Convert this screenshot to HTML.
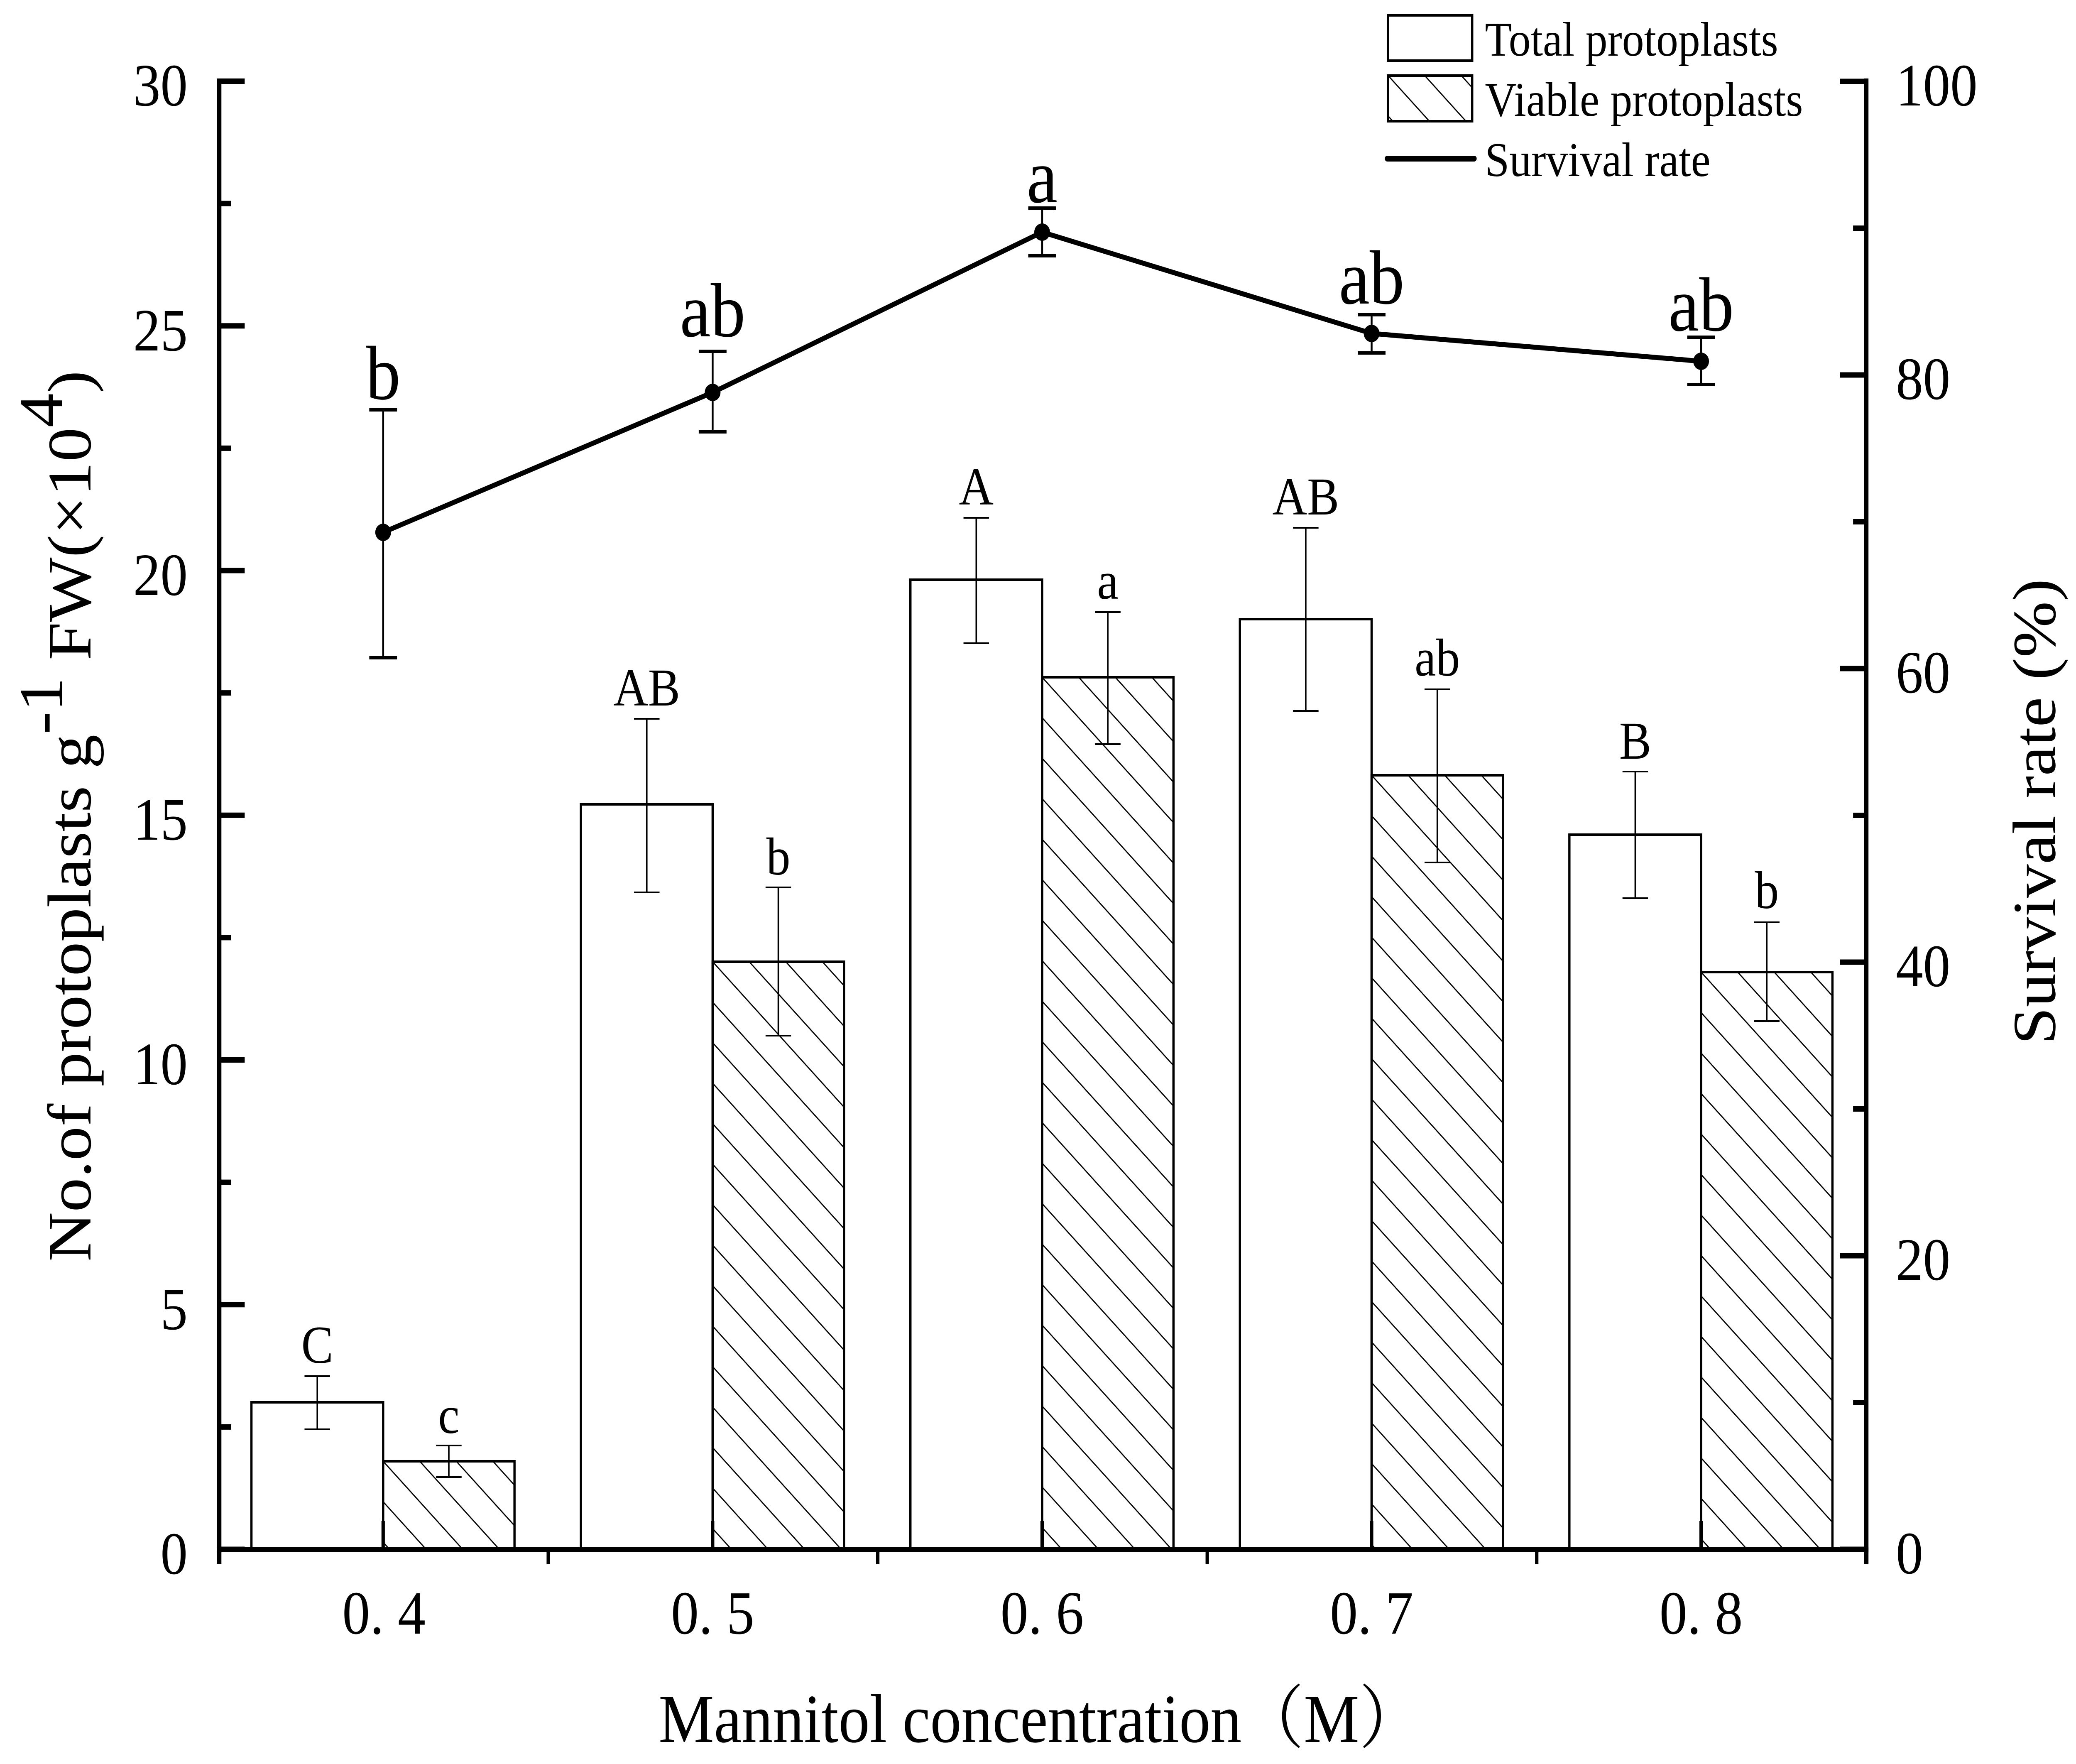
<!DOCTYPE html>
<html>
<head>
<meta charset="utf-8">
<style>
html,body{margin:0;padding:0;background:#fff;width:100%;height:100%;overflow:hidden;}
svg{position:fixed;left:0;top:0;width:100vw;height:100vh;display:block;}
text{font-family:"Liberation Serif","Noto Serif CJK SC",serif;fill:#000;}
</style>
</head>
<body>
<svg viewBox="0 0 5532 4248" preserveAspectRatio="none" xmlns="http://www.w3.org/2000/svg">
<defs>
  <pattern id="h1" patternUnits="userSpaceOnUse" x="1021" y="3519" width="97.5" height="97.5">
    <path d="M-20,-20 L117.5,117.5 M-20,77.5 L20,117.5 M77.5,-20 L117.5,20" stroke="#000" stroke-width="3" fill="none"/>
  </pattern>
  <pattern id="h2" patternUnits="userSpaceOnUse" x="1899" y="2316" width="97.5" height="97.5">
    <path d="M-20,-20 L117.5,117.5 M-20,77.5 L20,117.5 M77.5,-20 L117.5,20" stroke="#000" stroke-width="3" fill="none"/>
  </pattern>
  <pattern id="h3" patternUnits="userSpaceOnUse" x="2777" y="1631" width="97.5" height="97.5">
    <path d="M-20,-20 L117.5,117.5 M-20,77.5 L20,117.5 M77.5,-20 L117.5,20" stroke="#000" stroke-width="3" fill="none"/>
  </pattern>
  <pattern id="h4" patternUnits="userSpaceOnUse" x="3655" y="1867" width="97.5" height="97.5">
    <path d="M-20,-20 L117.5,117.5 M-20,77.5 L20,117.5 M77.5,-20 L117.5,20" stroke="#000" stroke-width="3" fill="none"/>
  </pattern>
  <pattern id="h5" patternUnits="userSpaceOnUse" x="4533" y="2341" width="97.5" height="97.5">
    <path d="M-20,-20 L117.5,117.5 M-20,77.5 L20,117.5 M77.5,-20 L117.5,20" stroke="#000" stroke-width="3" fill="none"/>
  </pattern>
  <pattern id="hl" patternUnits="userSpaceOnUse" x="3699" y="182" width="97.5" height="97.5">
    <path d="M-20,-20 L117.5,117.5 M-20,77.5 L20,117.5 M77.5,-20 L117.5,20" stroke="#000" stroke-width="3" fill="none"/>
  </pattern>
</defs>

<rect x="0" y="0" width="5532" height="4248" fill="#fff"/>

<!-- Bars: total -->
<g fill="#fff" stroke="#000" stroke-width="6">
  <rect x="670" y="3377" width="351" height="354"/>
  <rect x="1548" y="1937" width="351" height="1794"/>
  <rect x="2426" y="1396" width="351" height="2335"/>
  <rect x="3304" y="1491" width="351" height="2240"/>
  <rect x="4182" y="2010" width="351" height="1721"/>
</g>
<!-- Bars: viable -->
<g stroke="#000" stroke-width="6">
  <rect x="1021" y="3519" width="350" height="212" fill="url(#h1)"/>
  <rect x="1899" y="2316" width="350" height="1415" fill="url(#h2)"/>
  <rect x="2777" y="1631" width="350" height="2100" fill="url(#h3)"/>
  <rect x="3655" y="1867" width="350" height="1864" fill="url(#h4)"/>
  <rect x="4533" y="2341" width="350" height="1390" fill="url(#h5)"/>
</g>

<!-- Bar error bars -->
<g stroke="#000" stroke-width="4" fill="none">
  <path d="M845.5,3314 V3442 M811.5,3314 H879.5 M811.5,3442 H879.5"/>
  <path d="M1723.5,1731 V2149 M1689.5,1731 H1757.5 M1689.5,2149 H1757.5"/>
  <path d="M2601.5,1247 V1549 M2567.5,1247 H2635.5 M2567.5,1549 H2635.5"/>
  <path d="M3479.5,1271 V1712 M3445.5,1271 H3513.5 M3445.5,1712 H3513.5"/>
  <path d="M4357.5,1858 V2163 M4323.5,1858 H4391.5 M4323.5,2163 H4391.5"/>
  <path d="M1196,3481 V3557 M1162,3481 H1230 M1162,3557 H1230"/>
  <path d="M2074,2137 V2494 M2040,2137 H2108 M2040,2494 H2108"/>
  <path d="M2952,1474 V1792 M2918,1474 H2986 M2918,1792 H2986"/>
  <path d="M3830,1660 V2077 M3796,1660 H3864 M3796,2077 H3864"/>
  <path d="M4708,2221 V2459 M4674,2221 H4742 M4674,2459 H4742"/>
</g>

<!-- Bar letters -->
<g font-size="128" text-anchor="middle">
  <text x="845.5" y="3282">C</text>
  <text x="1723.5" y="1699">AB</text>
  <text x="2601.5" y="1215">A</text>
  <text x="3479.5" y="1239">AB</text>
  <text x="4357.5" y="1827">B</text>
  <text x="1196" y="3451">c</text>
  <text x="2074" y="2106">b</text>
  <text x="2952" y="1442">a</text>
  <text x="3830" y="1627">ab</text>
  <text x="4708" y="2187">b</text>
</g>

<!-- Survival error bars -->
<g stroke="#000" fill="none">
  <g stroke-width="5">
    <path d="M1021,987 V1584 M1899,846 V1040 M2777,501 V616 M3655,758 V850 M4533,812 V926"/>
  </g>
  <g stroke-width="8">
    <path d="M984,987 H1058 M984,1584 H1058"/>
    <path d="M1862,846 H1936 M1862,1040 H1936"/>
    <path d="M2740,501 H2814 M2740,616 H2814"/>
    <path d="M3618,758 H3692 M3618,850 H3692"/>
    <path d="M4496,812 H4570 M4496,926 H4570"/>
  </g>
</g>
<!-- Survival line -->
<polyline points="1021,1282 1899,945 2777,559 3655,803 4533,870" fill="none" stroke="#000" stroke-width="12" stroke-linejoin="round"/>
<g fill="#000">
  <circle cx="1021" cy="1282" r="21"/>
  <circle cx="1899" cy="945" r="21"/>
  <circle cx="2777" cy="559" r="21"/>
  <circle cx="3655" cy="803" r="21"/>
  <circle cx="4533" cy="870" r="21"/>
</g>
<g font-size="185" text-anchor="middle">
  <text x="1021" y="961">b</text>
  <text x="1899" y="810">ab</text>
  <text x="2777" y="487">a</text>
  <text x="3655" y="731">ab</text>
  <text x="4533" y="796">ab</text>
</g>

<!-- Axes -->
<g stroke="#000" fill="none">
  <line x1="584" y1="189" x2="584" y2="3766" stroke-width="12"/>
  <line x1="4973" y1="189" x2="4973" y2="3766" stroke-width="12"/>
  <line x1="578" y1="3732" x2="4979" y2="3732" stroke-width="12"/>
  <path stroke-width="13" d="M584,3731 H652 M584,3141.75 H652 M584,2552.5 H652 M584,1963.25 H652 M584,1374 H652 M584,784.75 H652 M584,195.5 H652"/>
  <path stroke-width="13" d="M584,3436.4 H616 M584,2847.1 H616 M584,2257.9 H616 M584,1668.6 H616 M584,1079.4 H616 M584,490.1 H616"/>
  <path stroke-width="13" d="M4973,3731 H4903 M4973,3024 H4903 M4973,2317 H4903 M4973,1610 H4903 M4973,903 H4903 M4973,196 H4903"/>
  <path stroke-width="13" d="M4973,3377.5 H4938 M4973,2670.5 H4938 M4973,1963.5 H4938 M4973,1256.5 H4938 M4973,549.5 H4938"/>
  <path stroke-width="9" d="M1461,3732 V3766 M2339,3732 V3766 M3217,3732 V3766 M4095,3732 V3766"/>
  <path stroke-width="9" d="M1021,3663 V3732 M1899,3663 V3732 M2777,3663 V3732 M3655,3663 V3732 M4533,3663 V3732"/>
</g>

<!-- Left tick labels -->
<g font-size="145" text-anchor="end">
  <text x="500" y="3790">0</text>
  <text x="500" y="3201">5</text>
  <text x="500" y="2611">10</text>
  <text x="500" y="2022">15</text>
  <text x="500" y="1433">20</text>
  <text x="500" y="844">25</text>
  <text x="500" y="254">30</text>
</g>
<!-- Right tick labels -->
<g font-size="145" text-anchor="start">
  <text x="5052" y="3789">0</text>
  <text x="5052" y="3082">20</text>
  <text x="5052" y="2375">40</text>
  <text x="5052" y="1668">60</text>
  <text x="5052" y="961">80</text>
  <text x="5052" y="254">100</text>
</g>
<!-- X tick labels -->
<g font-size="148" text-anchor="middle">
  <text x="1023" y="3934">0. 4</text>
  <text x="1899" y="3934">0. 5</text>
  <text x="2777" y="3934">0. 6</text>
  <text x="3655" y="3934">0. 7</text>
  <text x="4533" y="3934">0. 8</text>
</g>

<!-- Axis titles -->
<text x="1755" y="4195" font-size="166">Mannitol concentration（M）</text>
<text transform="translate(241,3038) rotate(-90)" font-size="165">No.of protoplasts g<tspan dy="-76">-1</tspan><tspan dy="76"> FW(×10</tspan><tspan dy="-76">4</tspan><tspan dy="76">)</tspan></text>
<text transform="translate(5476,2516) rotate(-90)" font-size="163">Survival rate (%)</text>

<!-- Legend -->
<rect x="3699" y="37" width="224" height="109" fill="#fff" stroke="#000" stroke-width="6"/>
<rect x="3699" y="182" width="224" height="110" fill="url(#hl)" stroke="#000" stroke-width="6"/>
<line x1="3697" y1="382" x2="3928" y2="382" stroke="#000" stroke-width="14" stroke-linecap="round"/>
<g font-size="117">
  <text x="3957" y="134">Total protoplasts</text>
  <text x="3957" y="279">Viable protoplasts</text>
  <text x="3957" y="424">Survival rate</text>
</g>
</svg>
</body>
</html>
